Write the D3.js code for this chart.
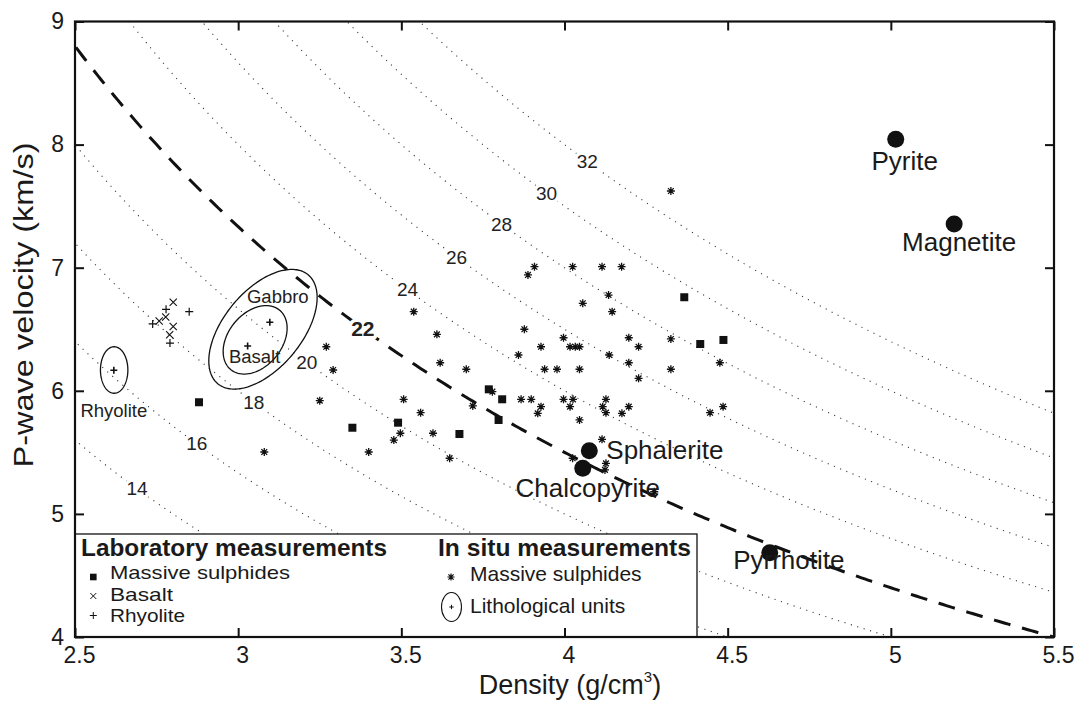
<!DOCTYPE html>
<html><head><meta charset="utf-8">
<script src="https://cdn.jsdelivr.net/npm/d3@7"></script>
<style>html,body{margin:0;padding:0;background:#fff;} svg{display:block;font-family:"Liberation Sans",Arial,Helvetica,sans-serif;}</style>
</head><body><svg id="chart" width="1080" height="703"></svg>
<script>
// ---------- data ----------
const xTicks = [2.5, 3, 3.5, 4, 4.5, 5, 5.5];
const yTicks = [4, 5, 6, 7, 8, 9];
const contourLevels = [10, 12, 14, 16, 18, 20, 24, 26, 28, 30, 32];
const referenceLevel = 22;
const contourLabelLevels = [14, 16, 18, 20, 22, 24, 26, 28, 30, 32];
const contourLabelDensity = [2.69, 2.873, 3.048, 3.21, 3.382, 3.519, 3.669, 3.807, 3.945, 4.07];

const labSulphideDensity  = [2.880, 3.350, 3.490, 3.678, 3.768, 3.809, 3.798, 4.367, 4.416, 4.487];
const labSulphideVelocity = [5.907, 5.700, 5.741, 5.649, 6.012, 5.931, 5.763, 6.760, 6.380, 6.413];

const labBasaltDensity  = [2.758, 2.778, 2.801, 2.801, 2.790];
const labBasaltVelocity = [6.567, 6.600, 6.719, 6.522, 6.455];

const labRhyoliteDensity  = [2.738, 2.779, 2.791, 2.850];
const labRhyoliteVelocity = [6.543, 6.662, 6.388, 6.643];

const insituDensity = [4.326, 3.908, 3.888, 4.025, 4.115, 4.175, 4.135, 4.056, 4.146, 3.538,
  3.609, 3.877, 3.997, 3.928, 4.017, 4.033, 4.046, 4.197, 4.227, 4.326,
  4.137, 3.859, 3.619, 3.699, 3.939, 3.977, 4.046, 4.197, 4.227, 4.326,
  4.476, 3.507, 3.559, 3.597, 3.648, 3.719, 3.779, 3.867, 3.898, 3.928,
  3.918, 3.997, 4.026, 4.017, 4.046, 4.127, 4.117, 4.127, 4.176, 4.197,
  4.446, 4.486, 4.115, 4.025, 4.127, 4.124, 4.275, 3.270, 3.291, 3.250,
  3.497, 3.477, 3.080, 3.400];
const insituVelocity = [7.623, 7.008, 6.941, 7.008, 7.008, 7.008, 6.778, 6.711, 6.643, 6.643,
  6.459, 6.500, 6.431, 6.358, 6.358, 6.358, 6.358, 6.431, 6.358, 6.421,
  6.291, 6.291, 6.228, 6.175, 6.175, 6.175, 6.175, 6.228, 6.101, 6.175,
  6.228, 5.931, 5.822, 5.655, 5.452, 5.877, 5.993, 5.931, 5.931, 5.871,
  5.817, 5.931, 5.931, 5.871, 5.763, 5.931, 5.871, 5.822, 5.817, 5.871,
  5.822, 5.871, 5.606, 5.452, 5.411, 5.357, 5.180, 6.358, 6.169, 5.920,
  5.655, 5.600, 5.503, 5.503];

const unitNames = ["Rhyolite", "Basalt", "Gabbro"];
const unitMeanDensity  = [2.619, 3.029, 3.097];
const unitMeanVelocity = [6.167, 6.364, 6.557];
const unitEllipseDensity  = [2.620, 3.052, 3.076];
const unitEllipseVelocity = [6.169, 6.414, 6.500];
const unitEllipseHalfDensity  = [0.042, 0.098, 0.166];
const unitEllipseHalfVelocity = [0.189, 0.278, 0.486];
const unitEllipsePhaseDeg = [90, 70, 58];

const mineralNames = ["Pyrite", "Magnetite", "Sphalerite", "Chalcopyrite", "Pyrrhotite"];
const mineralDensity  = [5.015, 5.194, 4.076, 4.056, 4.629];
const mineralVelocity = [8.043, 7.355, 5.513, 5.370, 4.685];

const legendLabItems = ["Massive sulphides", "Basalt", "Rhyolite"];
const legendInsituItems = ["Massive sulphides", "Lithological units"];

// ---------- layout (pixels) ----------
const mineralLabelLayout = [
  {dx: 9, dy: 31, anchor: "middle"},
  {dx: 5, dy: 27, anchor: "middle"},
  {dx: 17, dy: 8, anchor: "start"},
  {dx: 5, dy: 29, anchor: "middle"},
  {dx: 19, dy: 16, anchor: "middle"}
];
const unitLabelLayout = [
  {dx: 0, dy: 47},
  {dx: 7, dy: 17},
  {dx: 8, dy: -19}
];

const svg = d3.select("#chart");
const L = 75, R = 1054, T = 21.5, B = 637;
const x = d3.scaleLinear().domain([2.5, 5.5]).range([L, R]);
const y = d3.scaleLinear().domain([4, 9]).range([B, T]);
const FONT = '"Liberation Sans",Arial,Helvetica,sans-serif';

svg.append("defs").append("clipPath").attr("id", "clip")
  .append("rect").attr("x", L).attr("y", T).attr("width", R - L).attr("height", B - T);

const plot = svg.append("g").attr("clip-path", "url(#clip)");
const line = d3.line().x(d => x(d[0])).y(d => y(d[1]));
const rhoSamples = d3.range(2.45, 5.56, 0.01);

// impedance contours
plot.selectAll("path.contour").data(contourLevels).join("path")
  .attr("class", "contour")
  .attr("d", z => line(rhoSamples.map(r => [r, z / r])))
  .attr("fill", "none").attr("stroke", "#333").attr("stroke-width", 1.1)
  .attr("stroke-dasharray", "1.1,5.6");

// reference 22 line
plot.append("path")
  .attr("d", line(rhoSamples.map(r => [r, referenceLevel / r])))
  .attr("fill", "none").attr("stroke", "#111").attr("stroke-width", 3)
  .attr("stroke-dasharray", "17,12");

// contour labels
plot.selectAll("text.clabel").data(contourLabelLevels).join("text")
  .attr("class", "clabel")
  .attr("x", (z, i) => x(contourLabelDensity[i]))
  .attr("y", (z, i) => y(z / contourLabelDensity[i]))
  .attr("dy", "0.35em")
  .attr("text-anchor", "middle")
  .attr("font-size", z => z === referenceLevel ? 21 : 19)
  .attr("font-weight", z => z === referenceLevel ? "bold" : "normal")
  .attr("fill", "#222")
  .attr("stroke", "#fff").attr("stroke-width", 7).attr("paint-order", "stroke")
  .attr("stroke-linejoin", "round")
  .text(d => d);

// lithological ellipses
const tSamples = d3.range(0, 2 * Math.PI, Math.PI / 90);
unitNames.forEach((name, i) => {
  const ph = unitEllipsePhaseDeg[i] * Math.PI / 180;
  const pts = tSamples.map(t => [
    unitEllipseDensity[i] + unitEllipseHalfDensity[i] * Math.cos(t),
    unitEllipseVelocity[i] + unitEllipseHalfVelocity[i] * Math.cos(t - ph)
  ]);
  plot.append("path")
    .attr("d", d3.line().x(d => x(d[0])).y(d => y(d[1])).curve(d3.curveLinearClosed)(pts))
    .attr("fill", "none").attr("stroke", "#111").attr("stroke-width", 1.3);
});

const plusPath = r => `M${-r},0L${r},0M0,${-r}L0,${r}`;
const crossPath = r => `M${-r},${-r}L${r},${r}M${-r},${r}L${r},${-r}`;
const starPath = r => plusPath(r) + crossPath(r * 0.72);

// unit mean markers
plot.selectAll("path.unitmean").data(unitNames).join("path")
  .attr("transform", (d, i) => `translate(${x(unitMeanDensity[i])},${y(unitMeanVelocity[i])})`)
  .attr("d", plusPath(3.5)).attr("stroke", "#111").attr("stroke-width", 1.6);

// unit labels
plot.selectAll("text.unitlabel").data(unitNames).join("text")
  .attr("x", (d, i) => x(unitMeanDensity[i]) + unitLabelLayout[i].dx)
  .attr("y", (d, i) => y(unitMeanVelocity[i]) + unitLabelLayout[i].dy)
  .attr("text-anchor", "middle").attr("font-size", 18.5).attr("fill", "#222")
  .text(d => d);

// lab basalt x
plot.selectAll("path.basalt").data(labBasaltDensity).join("path")
  .attr("transform", (d, i) => `translate(${x(d)},${y(labBasaltVelocity[i])})`)
  .attr("d", crossPath(3.6)).attr("stroke", "#111").attr("stroke-width", 1.1);

// lab rhyolite +
plot.selectAll("path.rhyo").data(labRhyoliteDensity).join("path")
  .attr("transform", (d, i) => `translate(${x(d)},${y(labRhyoliteVelocity[i])})`)
  .attr("d", plusPath(4)).attr("stroke", "#111").attr("stroke-width", 1.2);

// in situ asterisks
plot.selectAll("path.insitu").data(insituDensity).join("path")
  .attr("transform", (d, i) => `translate(${x(d)},${y(insituVelocity[i])})`)
  .attr("d", starPath(4)).attr("stroke", "#111").attr("stroke-width", 1.3);

// lab sulphides squares
plot.selectAll("rect.labsq").data(labSulphideDensity).join("rect")
  .attr("x", (d) => x(d) - 4).attr("y", (d, i) => y(labSulphideVelocity[i]) - 4)
  .attr("width", 8).attr("height", 8).attr("fill", "#111");

// minerals
plot.selectAll("circle.min").data(mineralNames).join("circle")
  .attr("cx", (d, i) => x(mineralDensity[i])).attr("cy", (d, i) => y(mineralVelocity[i]))
  .attr("r", 8.5).attr("fill", "#111");
plot.selectAll("text.minlabel").data(mineralNames).join("text")
  .attr("x", (d, i) => x(mineralDensity[i]) + mineralLabelLayout[i].dx)
  .attr("y", (d, i) => y(mineralVelocity[i]) + mineralLabelLayout[i].dy)
  .attr("text-anchor", (d, i) => mineralLabelLayout[i].anchor)
  .attr("font-size", 26).attr("fill", "#1a1a1a")
  .text(d => d);

// legend
const lg = svg.append("g");
lg.append("rect").attr("x", L).attr("y", 534).attr("width", 697 - L).attr("height", B - 534)
  .attr("fill", "#fff").attr("stroke", "#111").attr("stroke-width", 1.3);
lg.append("text").attr("x", 81).attr("y", 556).attr("font-size", 24).attr("font-weight", "bold")
  .attr("textLength", 306).attr("lengthAdjust", "spacingAndGlyphs")
  .attr("fill", "#1a1a1a").text("Laboratory measurements");
lg.append("text").attr("x", 438).attr("y", 556).attr("font-size", 24).attr("font-weight", "bold")
  .attr("textLength", 253).attr("lengthAdjust", "spacingAndGlyphs")
  .attr("fill", "#1a1a1a").text("In situ measurements");
const legLabY = [579, 600.5, 622];
const legLabW = [180, 63, 75];
lg.selectAll("text.ll").data(legendLabItems).join("text")
  .attr("x", 110).attr("y", (d, i) => legLabY[i]).attr("font-size", 19)
  .attr("textLength", (d, i) => legLabW[i]).attr("lengthAdjust", "spacingAndGlyphs")
  .attr("fill", "#1a1a1a").text(d => d);
lg.append("rect").attr("x", 93.3 - 3.3).attr("y", 577 - 3.3).attr("width", 6.6).attr("height", 6.6).attr("fill", "#111");
lg.append("path").attr("transform", "translate(93.3,596)").attr("d", crossPath(3)).attr("stroke", "#111").attr("stroke-width", 1);
lg.append("path").attr("transform", "translate(93.3,615.5)").attr("d", plusPath(3.5)).attr("stroke", "#111").attr("stroke-width", 1);
const legInY = [581, 613];
lg.selectAll("text.li").data(legendInsituItems).join("text")
  .attr("x", 470).attr("y", (d, i) => legInY[i]).attr("font-size", 21)
  .attr("fill", "#1a1a1a").text(d => d);
lg.append("path").attr("transform", "translate(451,577)").attr("d", starPath(3.6)).attr("stroke", "#111").attr("stroke-width", 1.2);
lg.append("ellipse").attr("cx", 451.5).attr("cy", 607).attr("rx", 10).attr("ry", 14.5)
  .attr("fill", "none").attr("stroke", "#111").attr("stroke-width", 1.1);
lg.append("path").attr("transform", "translate(451.5,607)").attr("d", plusPath(2.2)).attr("stroke", "#111").attr("stroke-width", 1);

// axes
const axB = d3.axisBottom(x).tickValues(xTicks).tickSizeInner(-9).tickSizeOuter(0).tickPadding(10).tickFormat(d3.format("~g"));
const axT = d3.axisTop(x).tickValues(xTicks).tickSizeInner(-9).tickSizeOuter(0).tickFormat("");
const axL = d3.axisLeft(y).tickValues(yTicks).tickSizeInner(-9).tickSizeOuter(0).tickPadding(11).tickFormat(d3.format("d"));
const axR = d3.axisRight(y).tickValues(yTicks).tickSizeInner(-9).tickSizeOuter(0).tickFormat("");
function styleAxis(g) {
  g.select(".domain").remove();
  g.selectAll(".tick line").attr("stroke", "#111").attr("stroke-width", 2);
  g.selectAll(".tick text").attr("font-size", 23).attr("fill", "#1a1a1a").attr("font-family", FONT);
}
svg.append("g").attr("transform", `translate(0,${B})`).call(axB).call(styleAxis)
  .selectAll(".tick text").attr("dx", 4);
svg.append("g").attr("transform", `translate(0,${T})`).call(axT).call(styleAxis);
svg.append("g").attr("transform", `translate(${L},0)`).call(axL).call(styleAxis);
svg.append("g").attr("transform", `translate(${R},0)`).call(axR).call(styleAxis);

svg.append("rect").attr("x", L).attr("y", T).attr("width", R - L).attr("height", B - T)
  .attr("fill", "none").attr("stroke", "#111").attr("stroke-width", 2.2);

// axis titles
const xt = svg.append("text").attr("x", 570).attr("y", 694).attr("text-anchor", "middle")
  .attr("font-size", 27).attr("fill", "#1a1a1a");
xt.append("tspan").text("Density (g/cm");
xt.append("tspan").attr("font-size", 15).attr("dy", -12).text("3");
xt.append("tspan").attr("dy", 12).text(")");

svg.append("text").attr("transform", "translate(33,305) rotate(-90)")
  .attr("text-anchor", "middle").attr("font-size", 28).attr("fill", "#1a1a1a")
  .attr("textLength", 325).attr("lengthAdjust", "spacingAndGlyphs")
  .text("P-wave velocity (km/s)");
</script></body></html>
